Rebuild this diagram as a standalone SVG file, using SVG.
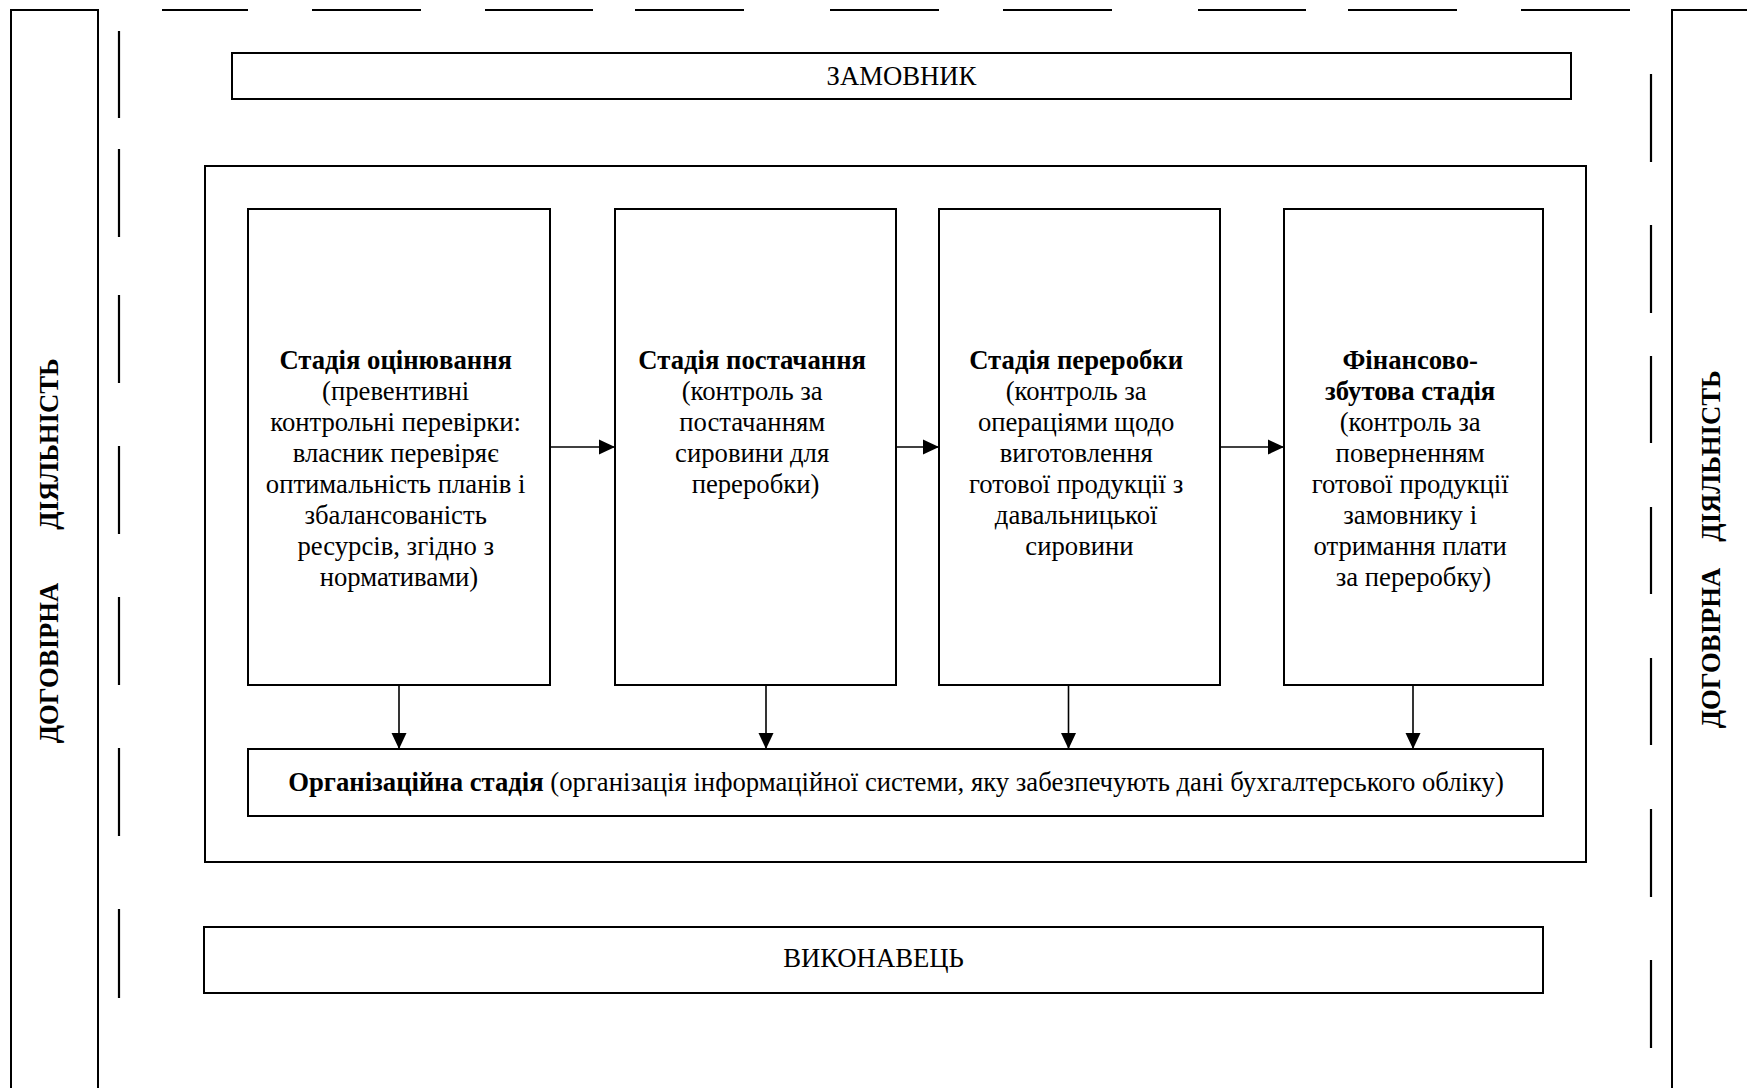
<svg xmlns="http://www.w3.org/2000/svg" width="1747" height="1088" viewBox="0 0 1747 1088">
  <style>
    .box { fill: #fff; stroke: #000; stroke-width: 2; }
    .frame { fill: none; stroke: #000; stroke-width: 2; }
    .dash { stroke: #000; stroke-width: 2.2; fill: none; }
    .conn { stroke: #000; stroke-width: 1.6; fill: none; }
    text { font-family: "Liberation Serif", "Times New Roman", serif; font-size: 26.7px; fill: #000; }
    .c { text-anchor: middle; }
    .b { font-weight: bold; }
  </style>
  <defs>
    <marker id="arrow" markerUnits="userSpaceOnUse" markerWidth="17" markerHeight="17" viewBox="0 0 17 17" refX="16" refY="8.5" orient="auto">
      <path d="M0,1 L16,8.5 L0,16 Z" fill="#000"/>
    </marker>
  </defs>

  <rect width="1747" height="1088" fill="#fff"/>

  <!-- side bands: contractual activity -->
  <g id="left-band">
    <path class="frame" d="M11,1100 V10 H98 V1100"/>
    <text class="b c" transform="translate(58,663) rotate(-90)">ДОГОВІРНА</text>
    <text class="b c" transform="translate(58,444) rotate(-90)">ДІЯЛЬНІСТЬ</text>
  </g>
  <g id="right-band">
    <path class="frame" d="M1760,10 H1672 V1100"/>
    <text class="b c" transform="translate(1720,648) rotate(-90)">ДОГОВІРНА</text>
    <text class="b c" transform="translate(1720,456) rotate(-90)">ДІЯЛЬНІСТЬ</text>
  </g>

  <!-- dashed boundary -->
  <g id="boundary">
    <path class="dash" d="M162,10 H248 M312,10 H421 M485,10 H593 M635,10 H744 M830,10 H939 M1003,10 H1112 M1198,10 H1306 M1348,10 H1457 M1521,10 H1630"/>
    <path class="dash" d="M119,31 V118 M119,149 V237 M119,295 V383 M119,446 V534 M119,597 V685 M119,748 V836 M119,909 V998"/>
    <path class="dash" d="M1651,74 V162 M1651,225 V313 M1651,356 V443 M1651,507 V594 M1651,658 V745 M1651,809 V897 M1651,960 V1048"/>
  </g>

  <g id="customer">
    <rect class="box" x="232" y="53" width="1339" height="46"/>
    <text class="c" x="901.5" y="85">ЗАМОВНИК</text>
  </g>

  <g id="control-area">
    <rect class="frame" x="205" y="166" width="1381" height="696"/>
  </g>

  <g id="stage-evaluation">
    <rect class="box" x="248" y="209" width="302" height="476"/>
    <text class="c" x="399" y="369">
      <tspan class="b" x="399">Стадія оцінювання</tspan>
      <tspan x="399" dy="31">(превентивні</tspan>
      <tspan x="399" dy="31">контрольні перевірки:</tspan>
      <tspan x="399" dy="31">власник перевіряє</tspan>
      <tspan x="399" dy="31">оптимальність планів і</tspan>
      <tspan x="399" dy="31">збалансованість</tspan>
      <tspan x="399" dy="31">ресурсів, згідно з</tspan>
      <tspan x="399" dy="31">нормативами)</tspan>
    </text>
  </g>

  <g id="stage-supply">
    <rect class="box" x="615" y="209" width="281" height="476"/>
    <text class="c" x="755.5" y="369">
      <tspan class="b" x="755.5">Стадія постачання</tspan>
      <tspan x="755.5" dy="31">(контроль за</tspan>
      <tspan x="755.5" dy="31">постачанням</tspan>
      <tspan x="755.5" dy="31">сировини для</tspan>
      <tspan x="755.5" dy="31">переробки)</tspan>
    </text>
  </g>

  <g id="stage-processing">
    <rect class="box" x="939" y="209" width="281" height="476"/>
    <text class="c" x="1079.5" y="369">
      <tspan class="b" x="1079.5">Стадія переробки</tspan>
      <tspan x="1079.5" dy="31">(контроль за</tspan>
      <tspan x="1079.5" dy="31">операціями щодо</tspan>
      <tspan x="1079.5" dy="31">виготовлення</tspan>
      <tspan x="1079.5" dy="31">готової продукції з</tspan>
      <tspan x="1079.5" dy="31">давальницької</tspan>
      <tspan x="1079.5" dy="31">сировини</tspan>
    </text>
  </g>

  <g id="stage-finance">
    <rect class="box" x="1284" y="209" width="259" height="476"/>
    <text class="c" x="1413.5" y="369">
      <tspan class="b" x="1413.5">Фінансово-</tspan>
      <tspan class="b" x="1413.5" dy="31">збутова стадія</tspan>
      <tspan x="1413.5" dy="31">(контроль за</tspan>
      <tspan x="1413.5" dy="31">поверненням</tspan>
      <tspan x="1413.5" dy="31">готової продукції</tspan>
      <tspan x="1413.5" dy="31">замовнику і</tspan>
      <tspan x="1413.5" dy="31">отримання плати</tspan>
      <tspan x="1413.5" dy="31">за переробку)</tspan>
    </text>
  </g>

  <g id="stage-organisation">
    <rect class="box" x="248" y="749" width="1295" height="67"/>
    <text class="c" x="896" y="791"><tspan class="b">Організаційна стадія</tspan> (організація інформаційної системи, яку забезпечують дані бухгалтерського обліку)</text>
  </g>

  <g id="contractor">
    <rect class="box" x="204" y="927" width="1339" height="66"/>
    <text class="c" x="873.5" y="967">ВИКОНАВЕЦЬ</text>
  </g>

  <g id="connectors">
    <line class="conn" x1="550" y1="447" x2="615" y2="447" marker-end="url(#arrow)"/>
    <line class="conn" x1="896" y1="447" x2="939" y2="447" marker-end="url(#arrow)"/>
    <line class="conn" x1="1220" y1="447" x2="1284" y2="447" marker-end="url(#arrow)"/>
    <line class="conn" x1="399" y1="685" x2="399" y2="749" marker-end="url(#arrow)"/>
    <line class="conn" x1="766" y1="685" x2="766" y2="749" marker-end="url(#arrow)"/>
    <line class="conn" x1="1068.5" y1="685" x2="1068.5" y2="749" marker-end="url(#arrow)"/>
    <line class="conn" x1="1413" y1="685" x2="1413" y2="749" marker-end="url(#arrow)"/>
  </g>
</svg>
